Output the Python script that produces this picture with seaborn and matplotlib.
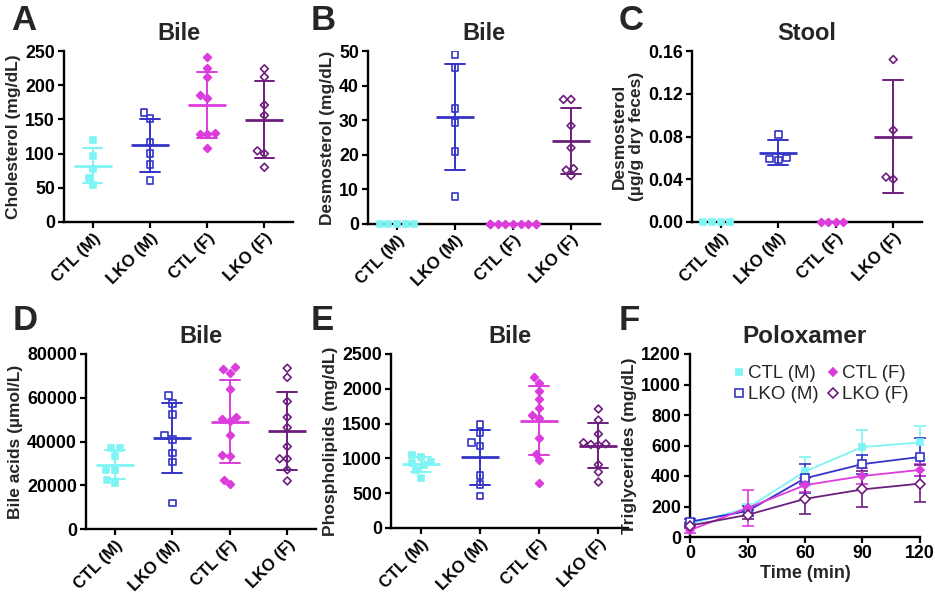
import numpy as np
import pandas as pd
import matplotlib
matplotlib.use("Agg")
import matplotlib.pyplot as plt
from matplotlib.lines import Line2D
import seaborn as sns

#%% Data
groups = ["CTL (M)", "LKO (M)", "CTL (F)", "LKO (F)"]
colors = ["#7ff4f4", "#3434c8", "#dc3cdc", "#6c1e7c"]
markers = ["s", "s", "D", "D"]
filled = [True, False, True, False]

# A: bile cholesterol (mg/dL)
chol_ctl_m = [120, 96, 78, 65, 54]
chol_lko_m = [160, 151, 117, 100, 84, 61]
chol_ctl_f = [241, 225, 212, 181, 185, 130, 128, 129, 108]
chol_lko_f = [224, 212, 171, 156, 104, 100, 80]

# B: bile desmosterol (mg/dL)
desm_ctl_m = [0, 0, 0, 0, 0]
desm_lko_m = [49, 45.3, 33.3, 29.4, 21, 8]
desm_ctl_f = [0, 0, 0, 0, 0, 0, 0, 0, 0]
desm_lko_f = [36, 36, 28.4, 22, 16, 15.6, 14]

# C: stool desmosterol (ug/g dry feces)
stool_ctl_m = [0, 0, 0, 0]
stool_lko_m = [0.082, 0.060, 0.058, 0.059]
stool_ctl_f = [0, 0, 0, 0]
stool_lko_f = [0.152, 0.086, 0.040, 0.042]

# D: bile acids (umol/L)
ba_ctl_m = [37000, 37000, 33500, 27000, 27000, 22500, 21000]
ba_lko_m = [61000, 57500, 52200, 42600, 41000, 34700, 30600, 11900]
ba_ctl_f = [71500, 73000, 74000, 64200, 51400, 49400, 50200, 43000, 33500, 34000, 20500, 22500]
ba_lko_f = [73500, 69300, 58300, 51100, 46400, 37700, 32100, 32100, 27100, 22000]

# E: bile phospholipids (mg/dL)
pl_ctl_m = [1050, 1020, 950, 930, 900, 830, 725]
pl_lko_m = [1490, 1370, 1225, 1180, 750, 625, 460]
pl_ctl_f = [2165, 2090, 1970, 1850, 1720, 1620, 1575, 1300, 1070, 975, 640]
pl_lko_f = [1710, 1550, 1350, 1225, 1200, 1210, 1190, 910, 805, 660]

# F: poloxamer triglycerides (mg/dL), mean and error
times = [0, 30, 60, 90, 120]
tg_ctl_m = [85, 190, 430, 590, 620]
tg_lko_m = [100, 170, 385, 478, 525]
tg_ctl_f = [45, 190, 340, 400, 440]
tg_lko_f = [75, 145, 250, 312, 350]
err_ctl_m = [15, 25, 95, 110, 110]
err_lko_m = [20, 35, 95, 62, 122]
err_ctl_f = [20, 120, 45, 50, 40]
err_lko_f = [15, 30, 98, 118, 122]

#%% Style
sns.set_style("ticks")
plt.rcParams["font.family"] = ["Liberation Sans", "DejaVu Sans"]
plt.rcParams["font.weight"] = "bold"
plt.rcParams["axes.labelweight"] = "bold"
plt.rcParams["axes.titleweight"] = "bold"
plt.rcParams["axes.linewidth"] = 1.7
plt.rcParams["xtick.major.width"] = 1.6
plt.rcParams["ytick.major.width"] = 1.6
plt.rcParams["xtick.major.size"] = 4
plt.rcParams["ytick.major.size"] = 4
plt.rcParams["xtick.major.pad"] = 2
plt.rcParams["ytick.major.pad"] = 2.5
plt.rcParams["xtick.labelsize"] = 12
plt.rcParams["ytick.labelsize"] = 12.8
plt.rcParams["axes.labelsize"] = 12.5
plt.rcParams["xtick.color"] = "black"
plt.rcParams["ytick.color"] = "black"
plt.rcParams["axes.edgecolor"] = "black"

W, H = 935, 595
fig = plt.figure(figsize=(W / 100, H / 100), dpi=100)


def add_ax(left, right, top, bottom):
    return fig.add_axes([left / W, 1 - bottom / H, (right - left) / W, (bottom - top) / H])


def scatter_panel(ax, values, ylabel, title, ymax, ystep, fmt=None):
    df = pd.DataFrame({
        "group": np.repeat(groups, [len(v) for v in values]),
        "value": np.concatenate([np.asarray(v, dtype=float) for v in values]),
    })
    # mean +/- SD
    sns.pointplot(data=df, x="group", y="value", hue="group", order=groups,
                  hue_order=groups, palette=colors, errorbar="sd", capsize=0.34,
                  marker="_", markersize=28, markeredgewidth=2.0, linestyle="none",
                  linewidth=1.4, err_kws={"linewidth": 1.4}, legend=False, ax=ax)
    for i, g in enumerate(groups):
        sub = df[df["group"] == g]
        kw = {} if filled[i] else {"facecolor": "none"}
        # zero values sit on the axis line, so let them overflow the axes
        if (sub["value"] == 0).any():
            kw["clip_on"] = False
        size = 4.8 if markers[i] == "s" else 4.0
        sns.swarmplot(data=sub, x="group", y="value", order=groups,
                      marker=markers[i], color=colors[i], edgecolor=colors[i],
                      linewidth=1.2, size=size, ax=ax, zorder=3,
                      warn_thresh=1, **kw)
    ax.set_xlim(-0.5, 3.5)
    ax.set_ylim(0, ymax)
    ticks = np.arange(0, ymax + ystep / 2, ystep)
    ax.set_yticks(ticks)
    if fmt:
        ax.set_yticklabels([fmt.format(t) for t in ticks])
    ax.set_xticks(range(4))
    ax.set_xticklabels(groups, rotation=45, ha="right", rotation_mode="anchor")
    ax.set_xlabel("")
    ax.set_ylabel(ylabel, labelpad=3)
    ax.set_title(title, fontsize=17, pad=8)
    sns.despine(ax=ax)


axA = add_ax(64, 293, 51, 222)
scatter_panel(axA, [chol_ctl_m, chol_lko_m, chol_ctl_f, chol_lko_f],
              "Cholesterol (mg/dL)", "Bile", 250, 50)

axB = add_ax(368, 600, 51, 224)
scatter_panel(axB, [desm_ctl_m, desm_lko_m, desm_ctl_f, desm_lko_f],
              "Desmosterol (mg/dL)", "Bile", 50, 10)

axC = add_ax(692, 922, 51, 222)
scatter_panel(axC, [stool_ctl_m, stool_lko_m, stool_ctl_f, stool_lko_f],
              "Desmosterol\n(µg/g dry feces)", "Stool", 0.16, 0.04, fmt="{:.2f}")

axD = add_ax(86, 316, 354, 529)
scatter_panel(axD, [ba_ctl_m, ba_lko_m, ba_ctl_f, ba_lko_f],
              "Bile acids (µmol/L)", "Bile", 80000, 20000)

axE = add_ax(391, 628, 354, 528)
scatter_panel(axE, [pl_ctl_m, pl_lko_m, pl_ctl_f, pl_lko_f],
              "Phospholipids (mg/dL)", "Bile", 2500, 500)

#%% F: time course
axF = add_ax(690, 920, 354, 537)
tg_means = [tg_ctl_m, tg_lko_m, tg_ctl_f, tg_lko_f]
tg_errs = [err_ctl_m, err_lko_m, err_ctl_f, err_lko_f]
f_sizes = [5.0, 6.0, 4.0, 4.6]
handles = []
for i, g in enumerate(groups):
    fc = colors[i] if filled[i] else "white"
    axF.errorbar(times, tg_means[i], yerr=tg_errs[i], fmt="none", ecolor=colors[i],
                 elinewidth=1.2, capsize=4, capthick=1.2, clip_on=False, zorder=2)
    sns.lineplot(x=times, y=tg_means[i], color=colors[i], marker=markers[i],
                 markersize=f_sizes[i], markerfacecolor=fc, markeredgecolor=colors[i],
                 markeredgewidth=1.2, linewidth=1.3, clip_on=False, zorder=3, ax=axF)
    handles.append(Line2D([], [], linestyle="none", marker=markers[i], markersize=f_sizes[i],
                          markerfacecolor=fc, markeredgecolor=colors[i], markeredgewidth=1.2,
                          label=g))
axF.set_xlim(0, 120)
axF.set_ylim(0, 1200)
axF.set_xticks(times)
axF.set_yticks(np.arange(0, 1201, 200))
axF.tick_params(axis="x", labelsize=12.8)
axF.set_xlabel("Time (min)", labelpad=2, fontsize=13)
axF.set_ylabel("Triglycerides (mg/dL)", labelpad=3)
axF.set_title("Poloxamer", fontsize=17.5, pad=8)
axF.legend(handles=handles, ncol=2, frameon=False, loc="upper right",
           bbox_to_anchor=(1.0, 1.0), prop={"weight": "normal", "size": 13.5},
           handlelength=0.5, handletextpad=0.25, columnspacing=0.5, labelspacing=0.2,
           borderaxespad=0.2)
sns.despine(ax=axF)

#%% Panel letters
for letter, x, y in [("A", 11, 4), ("B", 311, 4), ("C", 619, 4),
                     ("D", 13, 304), ("E", 311, 304), ("F", 619, 304)]:
    fig.text(x / W, 1 - y / H, letter, fontsize=25, fontweight="bold", va="top", ha="left")

fig.savefig("out.png", dpi=100)
